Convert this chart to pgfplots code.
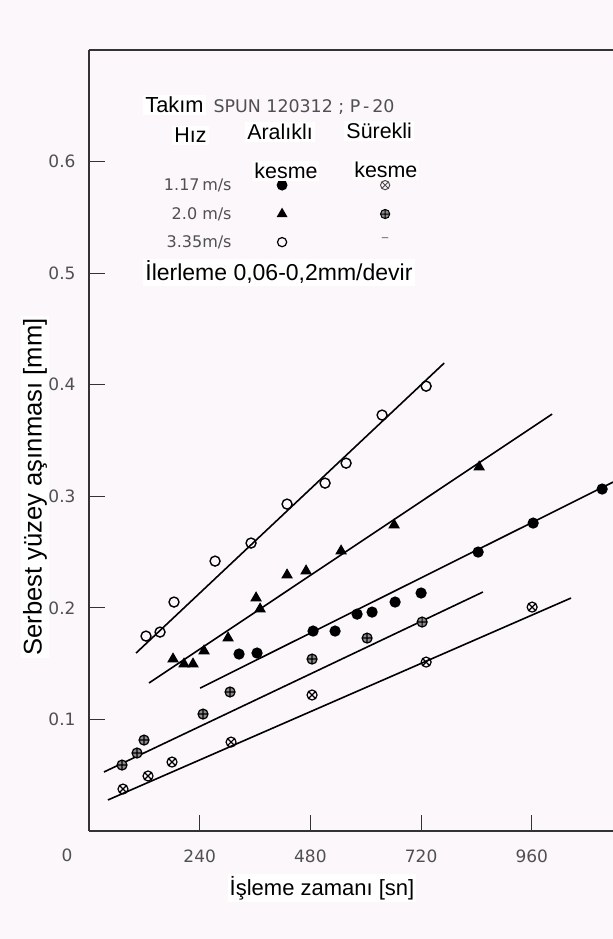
\documentclass[border=0pt]{standalone}
\usepackage{fontspec}
\setmainfont{Liberation Sans}
\newfontfamily\tickfont{DejaVu Sans}
\usepackage{pgfplots}
\pgfplotsset{compat=1.18}
\definecolor{bg}{RGB}{251,247,251}
\definecolor{tk}{RGB}{80,80,80}
\begin{document}
\begin{tikzpicture}
\path[use as bounding box, fill=bg] (-44.5pt,-54pt) rectangle (262pt,415.5pt);
\begin{axis}[
  scale only axis, width=262pt, height=390.5pt,
  xmin=0, xmax=1136, ymin=0, ymax=0.7,
  axis x line=bottom, axis y line=left,
  axis line style={-, line width=0.6pt, black!80},
  xtick={240,480,720,960}, ytick={0.1,0.2,0.3,0.4,0.5,0.6},
  tick align=inside, major tick length=8pt,
  tick style={black!80, line width=0.6pt},
  /pgf/number format/assume math mode=true,
  ticklabel style={font=\tickfont\fontsize{8.5}{10}\selectfont, text=tk},
  yticklabel style={/pgf/number format/fixed, /pgf/number format/precision=1, xshift=-3.2pt},
  xticklabel style={yshift=-6pt},
  xlabel={İşleme zamanı [sn]},
  xlabel style={at={(rel axis cs:0.4447,0)}, anchor=center, yshift=-28.5pt, font=\fontsize{11}{13}\selectfont, fill=white, inner sep=1pt},
  every axis plot/.append style={line width=0.8pt, black},
  clip mode=individual,
]
% regression lines
\addplot[no marks] coordinates {(102,0.1595) (770,0.4194)};
\addplot[no marks] coordinates {(130,0.1326) (1004,0.3737)};
\addplot[no marks] coordinates {(241,0.1281) (1136,0.3127)};
\addplot[no marks] coordinates {(32.5,0.0529) (854,0.2142)};
\addplot[no marks] coordinates {(41,0.0278) (1045,0.2088)};
% 3.35 m/s intermittent (open circles)
\addplot[only marks, mark=o, mark size=2.5pt, mark options={line width=0.7pt, fill=white}] coordinates {
(123.6,0.1747) (154,0.1783) (184.3,0.2052) (273.3,0.2419) (351.3,0.2581)
(429.4,0.2930) (511.8,0.3118) (557.4,0.3297) (635.4,0.3728) (730.9,0.3987)};
% 2.0 m/s intermittent (triangles)
\addplot[only marks, mark=triangle*, mark size=2.6pt] coordinates {
(182.2,0.1541) (206,0.1496) (225.5,0.1496) (249.4,0.1613) (301.5,0.1729)
(362.2,0.2088) (370.9,0.1989) (429.4,0.2294) (470.6,0.2330) (546.5,0.2509)
(661.5,0.2742) (845.8,0.3262)};
% 1.17 m/s intermittent (filled circles)
\addplot[only marks, mark=*, mark size=2.4pt] coordinates {
(325.3,0.1586) (364.3,0.1595) (485.8,0.1792) (533.5,0.1792) (581.2,0.1944)
(613.7,0.1962) (663.6,0.2052) (720,0.2133) (843.6,0.2500) (962.9,0.2760)
(1112.5,0.3065)};
% 2.0 m/s continuous
\addplot[only marks, mark=oplus*, mark size=2.5pt, mark options={line width=0.6pt, fill=black!45}] coordinates {
(71.6,0.0591) (104.1,0.0699) (119.3,0.0815) (247.2,0.1048) (305.8,0.1246)
(483.6,0.1541) (602.9,0.1729) (722.2,0.1873)};
% 1.17 m/s continuous
\addplot[only marks, mark=otimes, mark size=2.5pt, mark options={line width=0.6pt}] coordinates {
(73.7,0.0376) (128,0.0493) (180,0.0618) (308,0.0797) (483.6,0.1219)
(730.9,0.1514) (960.7,0.2007)};
% legend markers
\addplot[forget plot, only marks, mark=*, mark size=2.3pt] coordinates {(418.6,0.5789)};
\addplot[forget plot, only marks, mark=triangle*, mark size=2.4pt] coordinates {(418.6,0.5530)};
\addplot[forget plot, only marks, mark=o, mark size=2.3pt, mark options={line width=0.6pt}] coordinates {(418.6,0.5278)};
\addplot[forget plot, only marks, mark=otimes, mark size=2.3pt, mark options={line width=0.5pt, black!70}] coordinates {(642,0.5789)};
\addplot[forget plot, only marks, mark=oplus*, mark size=2.3pt, mark options={line width=0.5pt, fill=black!45}] coordinates {(642,0.5530)};
% top frame line
\draw[black!80, line width=0.6pt] (rel axis cs:0,1) -- (rel axis cs:1,1);
% origin label
\node[font=\tickfont\fontsize{8.5}{10}\selectfont, text=tk] at ([xshift=-11pt,yshift=-12pt]rel axis cs:0,0) {0};
% y label
\node[rotate=90, anchor=center, font=\fontsize{12.8}{15}\selectfont, fill=white, inner sep=1pt] at ([xshift=-27pt]rel axis cs:0,0.4405) {Serbest yüzey aşınması [mm]};
% legend texts
\node[anchor=west, font=\fontsize{10.9}{13}\selectfont, fill=white, inner sep=1pt] at (axis cs:117,0.651) {Takım};
\node[anchor=west, font=\tickfont\fontsize{8.7}{10}\selectfont, text=tk, inner sep=1pt] at (axis cs:265,0.649) {SPUN 120312 ; P\,-\,20};
\node[anchor=west, font=\fontsize{10.7}{13}\selectfont, fill=white, inner sep=1pt] at (axis cs:180,0.6237) {Hız};
\node[anchor=west, font=\fontsize{10.7}{13}\selectfont, fill=white, inner sep=1pt] at (axis cs:338,0.6263) {Aralıklı};
\node[anchor=west, font=\fontsize{10.7}{13}\selectfont, fill=white, inner sep=1pt] at (axis cs:553,0.6272) {Sürekli};
\node[anchor=west, font=\fontsize{10.7}{13}\selectfont, fill=white, inner sep=1pt] at (axis cs:353.5,0.5914) {kesme};
\node[anchor=west, font=\fontsize{10.7}{13}\selectfont, fill=white, inner sep=1pt] at (axis cs:570,0.5923) {kesme};
\node[anchor=east, font=\tickfont\fontsize{8}{10}\selectfont, text=tk, inner sep=0pt] at (axis cs:310,0.5789) {1.17\,m/s};
\node[anchor=east, font=\tickfont\fontsize{8}{10}\selectfont, text=tk, inner sep=0pt] at (axis cs:310,0.5530) {2.0 m/s};
\node[anchor=east, font=\tickfont\fontsize{8}{10}\selectfont, text=tk, inner sep=0pt] at (axis cs:310,0.5278) {3.35m/s};
\node[font=\tickfont\fontsize{8}{10}\selectfont, text=black!50, inner sep=0pt] at (axis cs:642,0.530) {–};
\node[anchor=west, font=\fontsize{11.5}{13}\selectfont, fill=white, inner sep=1pt] at (axis cs:117,0.5009) {İlerleme 0,06-0,2mm/devir};
\end{axis}
\end{tikzpicture}
\end{document}
